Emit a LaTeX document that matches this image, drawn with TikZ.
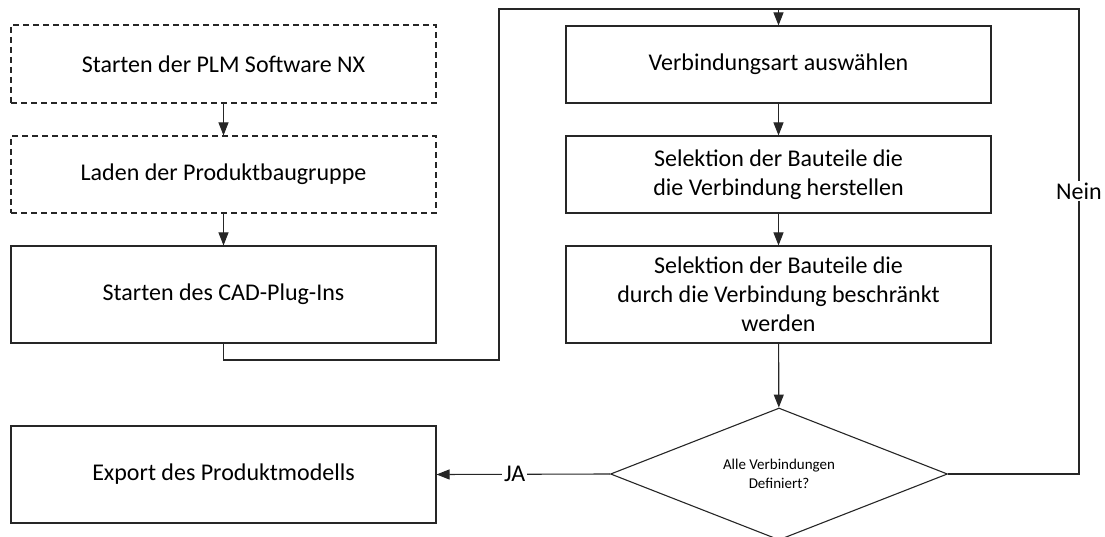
\documentclass[tikz,border=0pt]{standalone}
\usepackage{fontspec}
\setmainfont{Carlito}
\usetikzlibrary{arrows.meta,shapes.geometric}

\tikzset{
  flowline/.style={draw=black!85, line width=1.1pt},
  arr/.style={flowline, -{Triangle[length=13pt,width=10pt]}},
  stepbox/.style={draw=black!85, line width=1.1pt, fill=white, rectangle,
    minimum width=425pt, inner sep=0pt, align=center,
    font=\fontsize{24}{29}\selectfont},
  optbox/.style={stepbox, dash pattern=on 6pt off 4pt},
  decision/.style={draw=black!85, line width=1.1pt, fill=white, diamond,
    aspect=2.55, inner sep=0pt, minimum width=337pt, minimum height=132pt,
    align=center, font=\fontsize{15}{19}\selectfont},
  edgelabel/.style={fill=white, inner sep=2pt, font=\fontsize{24}{29}\selectfont}
}

\begin{document}
\begin{tikzpicture}[x=1pt, y=-1pt]
  \useasboundingbox (0,0) rectangle (1105,537);
  \clip (0,0) rectangle (1105,537);

  % left column
  \node[optbox, minimum height=78pt] (b1) at (223.5,64) {Starten der PLM Software NX};
  \node[optbox, minimum height=77pt] (b2) at (223.5,174.5) {Laden der Produktbaugruppe};
  \node[stepbox, minimum height=97pt] (b3) at (223.5,294.5) {Starten des CAD-Plug-Ins};
  \node[stepbox, minimum height=97pt] (ex) at (223.5,474.5) {Export des Produktmodells};

  % right column
  \node[stepbox, minimum height=77pt] (b4) at (778.5,64.5) {Verbindungsart auswählen};
  \node[stepbox, minimum height=77pt] (b5) at (778.5,174.5) {Selektion der Bauteile die\\die Verbindung herstellen};
  \node[stepbox, minimum height=97pt] (b6) at (778.5,294.5) {Selektion der Bauteile die\\durch die Verbindung beschränkt\\werden};
  \node[decision] (d) at (779,474) {Alle Verbindungen\\Definiert?};

  % routing points of the loop
  \coordinate (c1) at (499,360);
  \coordinate (c2) at (499,9);
  \coordinate (c4) at (1079,9);

  \draw[arr] (b1) -- (b2);
  \draw[arr] (b2) -- (b3);
  \draw[arr] (b3.south) |- (c1) -- (c2) -| (b4.north);
  \draw[arr] (b4) -- (b5);
  \draw[arr] (b5) -- (b6);
  \draw[arr] (b6) -- (d);
  \draw[flowline] (d.east) -| (c4) -- (c2);
  \node[edgelabel] (nein) at (1079,191) {Nein};
  \draw[arr] (d.west) -- node[edgelabel, pos=0.55] (ja) {JA} (ex.east);
\end{tikzpicture}
\end{document}
